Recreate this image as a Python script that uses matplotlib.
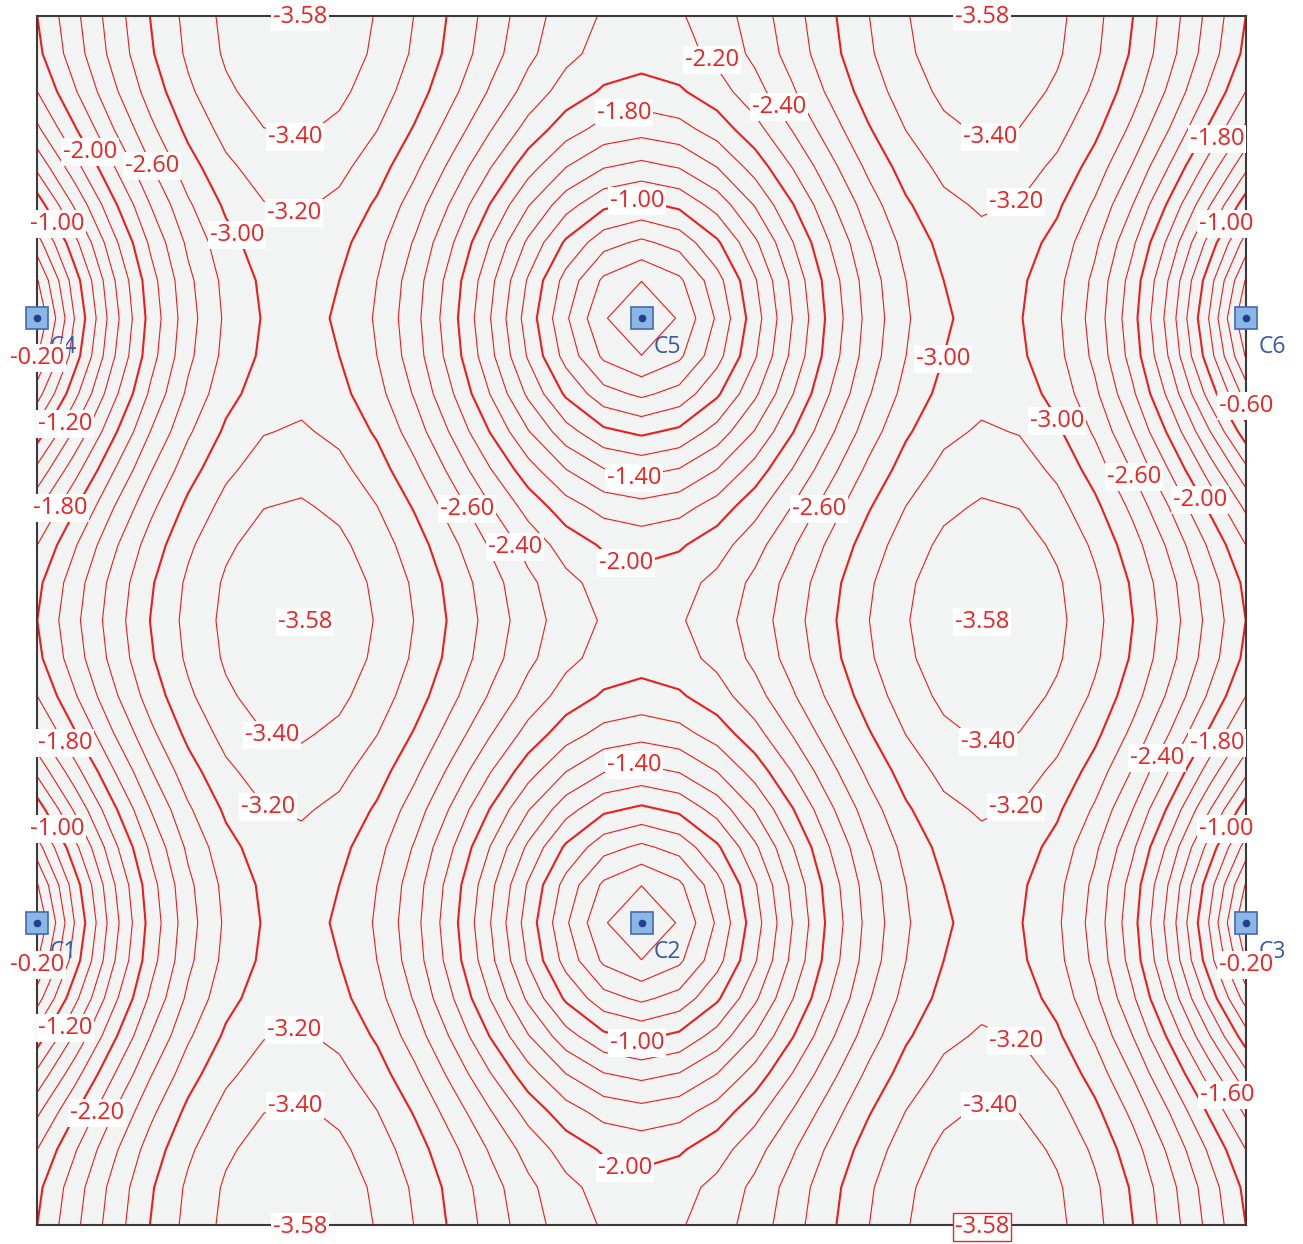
import numpy as np
import matplotlib.pyplot as plt

# slab strip between free edges x=0 / x=1, repeating every 0.5 in y
col_names = ["C1", "C2", "C3", "C4", "C5", "C6"]
col_x = [0.0, 0.5, 1.0, 0.0, 0.5, 1.0]
col_y = [0.25, 0.25, 0.25, 0.75, 0.75, 0.75]
w_min = -3.58
levels = [-3.40, -3.20, -3.00, -2.80, -2.60, -2.40, -2.20, -2.00, -1.80,
          -1.60, -1.40, -1.20, -1.00, -0.80, -0.60, -0.40, -0.20]
nu = 0.2
mesh_div = 32   # element divisions shown in the reference

# contour labels: (text, px, py)
labels = [
    ("-2.20", 712, 60), ("-1.80", 624, 113), ("-2.40", 779, 107),
    ("-3.40", 295, 137), ("-3.40", 990, 137), ("-2.00", 90, 152),
    ("-2.60", 152, 166), ("-1.80", 1217, 139), ("-1.00", 637, 201),
    ("-3.20", 294, 213), ("-3.20", 1016, 202), ("-3.00", 237, 235),
    ("-1.00", 57, 224), ("-1.00", 1226, 224), ("-0.20", 37, 358),
    ("-3.00", 943, 359), ("-0.60", 1246, 406), ("-3.00", 1057, 421),
    ("-1.20", 65, 424), ("-1.40", 634, 478), ("-2.60", 1134, 477),
    ("-2.00", 1200, 500), ("-1.80", 60, 508), ("-2.60", 467, 509),
    ("-2.60", 819, 509), ("-2.40", 515, 547), ("-2.00", 626, 563),
    ("-3.40", 272, 735), ("-3.40", 988, 742), ("-1.80", 65, 743),
    ("-1.80", 1217, 743), ("-2.40", 1157, 758), ("-1.40", 634, 765),
    ("-3.20", 268, 807), ("-3.20", 1016, 807), ("-1.00", 57, 829),
    ("-1.00", 1226, 829), ("-0.20", 37, 965), ("-0.20", 1246, 965),
    ("-3.20", 294, 1030), ("-1.00", 637, 1043), ("-3.20", 1016, 1041),
    ("-1.20", 65, 1028), ("-3.40", 295, 1106), ("-3.40", 990, 1106),
    ("-2.20", 97, 1113), ("-1.60", 1227, 1095), ("-2.00", 625, 1168),
]
# extreme value markers
extremes = [("-3.58", 300, 17), ("-3.58", 982, 17), ("-3.58", 305, 622),
            ("-3.58", 982, 622), ("-3.58", 300, 1227), ("-3.58", 982, 1227)]

# plate bending solve (finer grid, sampled back onto the 32x32 mesh)
fine = 2 * mesh_div
nx = fine + 1
ny = fine // 2          # periodic strip, period 0.5 in y
N = nx * ny


def node(i, j):
    return (j % ny) * nx + i


K = np.zeros((N, N))
load = np.ones(N)
c3 = np.array([1.0, -2.0, 1.0])
c4 = np.array([1.0, -1.0, -1.0, 1.0])
for j in range(ny):
    for i in range(nx):
        ey = [node(i, j - 1), node(i, j), node(i, j + 1)]
        wt = 1.0
        if i in (0, nx - 1):
            wt = 0.5
            load[node(i, j)] = 0.5
        K[np.ix_(ey, ey)] += wt * np.outer(c3, c3)
        if 0 < i < nx - 1:
            ex = [node(i - 1, j), node(i, j), node(i + 1, j)]
            K[np.ix_(ex, ex)] += np.outer(c3, c3)
            K[np.ix_(ex, ey)] += nu * np.outer(c3, c3)
            K[np.ix_(ey, ex)] += nu * np.outer(c3, c3)
        if i < nx - 1:
            e = [node(i, j), node(i + 1, j), node(i, j + 1), node(i + 1, j + 1)]
            K[np.ix_(e, e)] += 2 * (1 - nu) * np.outer(c4, c4)

fixed = sorted({node(int(round(cx * fine)), int(round(cy * fine))) for cx, cy in zip(col_x, col_y)})
free = np.setdiff1d(np.arange(N), fixed)
w = np.zeros(N)
w[free] = np.linalg.solve(K[np.ix_(free, free)], load[free])
w = w.reshape(ny, nx)
w = w[np.arange(fine + 1) % ny][::2, ::2]
W = w_min * w / w.max()
xs = np.linspace(0, 1, mesh_div + 1)
ys = np.linspace(0, 1, mesh_div + 1)

# figure
fig = plt.figure(figsize=(13.03, 12.44), dpi=100)
ax = fig.add_axes([37 / 1303, 1 - 1225 / 1244, 1209 / 1303, 1209 / 1244])
ax.set_facecolor("#f2f3f3")
ax.set_xlim(0, 1)
ax.set_ylim(0, 1)
ax.set_xticks([])
ax.set_yticks([])
for s in ax.spines.values():
    s.set_color("#3a3a3a")
    s.set_linewidth(1.5)

lws = [1.5 if abs(l - round(l)) < 1e-6 else 0.8 for l in levels]
ax.contour(xs, ys, W, levels=levels, colors="#f01c1c", linewidths=lws,
           linestyles="solid")

plt.rcParams["font.family"] = ["Open Sans", "DejaVu Sans"]


def to_data(px, py):
    return (px - 37) / 1209, 1 - (py - 16) / 1209


# columns
for name, cx, cy in zip(col_names, col_x, col_y):
    ax.plot(cx, cy, marker="s", ms=16, mfc="#8ab8e6", mec="#4a66b0", mew=1.2,
            clip_on=False, zorder=5)
    ax.plot(cx, cy, marker="o", ms=4.5, color="#253f8e", clip_on=False, zorder=6)
    ax.text(cx + 26 / 1209, cy - 29 / 1209, name, color="#3b57a6", fontsize=16.5,
            ha="center", va="center", zorder=4)

for txt, px, py in labels:
    x, y = to_data(px, py)
    ax.text(x, y, txt, color="#ee2222", fontsize=17, ha="center", va="center", zorder=7,
            bbox=dict(boxstyle="square,pad=0.08", fc="white", ec="none"))

for k, (txt, px, py) in enumerate(extremes):
    x, y = to_data(px, py)
    ec = "#ee2222" if k == len(extremes) - 1 else "none"
    ax.text(x, y, txt, color="#ee2222", fontsize=17, ha="center", va="center", zorder=7,
            bbox=dict(boxstyle="square,pad=0.08", fc="white", ec=ec, lw=1))

fig.savefig("out.png", dpi=100)
